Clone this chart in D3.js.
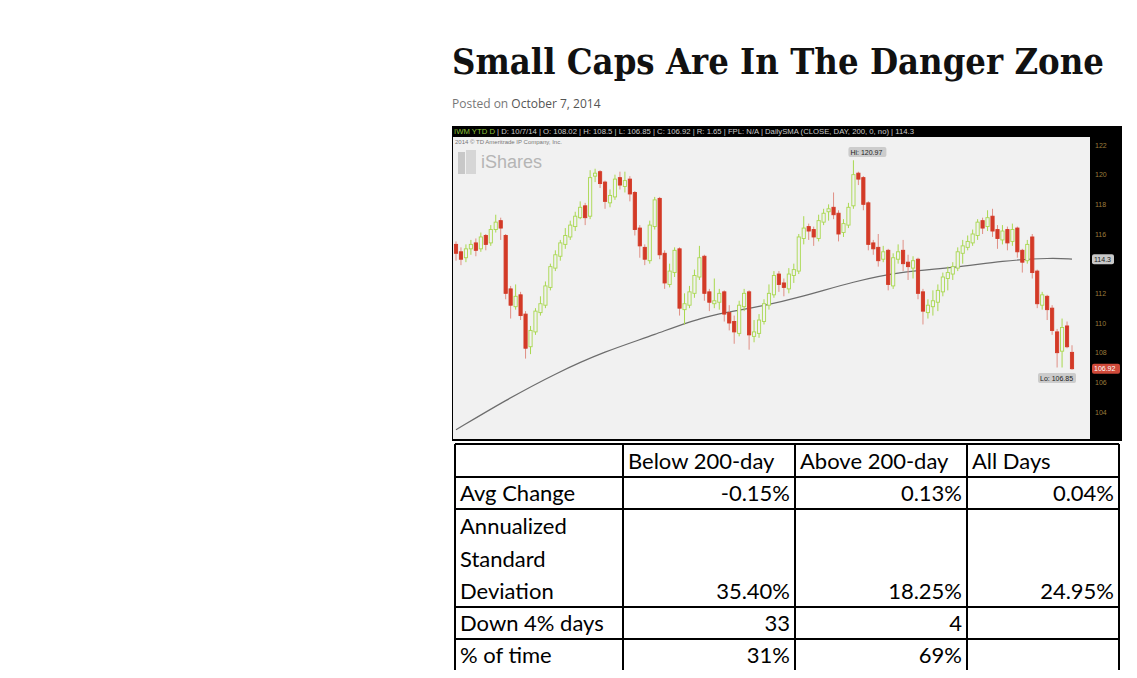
<!DOCTYPE html>
<html lang="en">
<head>
<meta charset="UTF-8">
<title>Small Caps Are In The Danger Zone</title>
<script src="https://d3js.org/d3.v7.min.js"></script>
<style>
  body { margin: 0; background: #fff; font-family: "Open Sans", sans-serif; }
</style>
</head>
<body>
<div id="page"></div>
<script>
// IWM daily candles, Jan 2 - Oct 7 2014 (thinned)
const opens  = [115.3,114.8,114.4,115.0,115.4,115.0,115.9,115.4,116.3,116.9,115.9,112.3,111.1,111.9,110.6,108.4,109.4,110.7,111.2,112.4,113.7,114.5,115.3,115.8,116.5,117.1,117.9,117.2,119.9,120.2,119.5,118.1,118.5,119.8,119.2,119.7,118.8,116.4,115.1,114.2,116.5,118.4,114.7,112.6,113.4,115.0,110.9,111.2,112.0,113.1,114.5,112.1,111.3,111.4,112.1,110.7,110.1,109.3,111.1,112.1,109.1,109.3,110.1,111.2,111.9,113.3,112.7,112.3,113.2,113.5,115.7,116.5,116.3,115.7,116.8,117.5,117.8,117.4,116.1,116.6,117.9,120.1,119.8,118.1,115.4,115.1,114.3,114.9,112.5,114.3,114.9,114.1,113.7,114.3,112.1,110.7,111.1,111.4,112.1,113.0,113.3,113.7,114.7,115.1,115.4,115.9,116.9,116.5,117.2,116.3,115.6,116.3,115.5,116.4,114.9,114.2,115.8,113.5,111.2,111.8,111.0,109.4,108.1,109.8,108.02];
const closes = [114.7,114.3,115.0,115.3,114.9,115.8,115.3,116.3,116.8,116.4,112.0,111.2,111.8,110.5,108.3,109.5,110.8,111.3,112.5,113.8,114.6,115.4,115.9,116.6,117.2,117.8,117.1,119.8,120.1,119.4,118.2,118.6,119.7,119.3,119.6,118.7,116.3,115.2,114.3,116.6,118.3,114.6,112.7,113.5,114.9,111.0,111.3,112.1,113.2,114.4,112.0,111.4,111.5,112.0,110.6,110.0,109.4,111.2,112.0,109.2,109.4,110.2,111.3,112.0,113.2,112.6,112.4,113.3,113.6,115.8,116.4,116.2,115.8,116.9,117.4,117.7,117.3,116.0,116.7,117.8,120.0,119.7,118.0,115.3,115.0,114.2,114.8,112.6,114.4,114.8,114.0,113.8,114.2,112.0,110.8,111.2,111.5,112.2,113.1,113.4,113.8,114.8,115.2,115.5,116.0,116.8,116.4,117.1,116.2,115.7,116.2,115.4,116.3,114.8,114.1,115.3,113.4,111.3,111.9,110.9,109.5,108.0,109.7,108.4,106.92];
const highs  = [115.5,115.1,115.3,115.6,115.7,116.1,116.0,116.6,117.3,117.1,116.0,112.5,112.6,112.1,110.8,109.8,111.0,111.8,112.8,114.0,114.9,115.6,116.4,116.9,117.5,118.2,118.1,120.3,120.4,120.3,119.6,119.0,120.0,120.2,120.2,119.9,118.9,116.6,115.3,116.9,118.5,118.5,114.9,114.0,115.1,115.1,112.0,112.5,113.6,115.2,114.6,112.3,113.0,112.3,112.2,111.2,110.5,111.5,112.3,112.2,110.2,110.6,111.6,112.6,113.5,113.5,113.0,113.7,114.0,116.0,117.2,116.7,116.5,117.3,117.7,118.0,118.8,117.6,117.0,118.1,120.97,120.2,119.9,118.2,115.6,116.0,115.2,115.0,114.7,115.3,115.6,114.6,114.5,114.4,112.3,111.6,112.2,112.6,113.4,113.8,114.1,115.1,115.6,115.9,116.3,117.0,117.1,117.6,117.7,116.6,116.6,116.5,116.7,116.5,115.0,115.6,116.0,113.6,112.1,111.9,111.2,109.6,110.3,110.1,108.5];
const lows   = [114.2,113.9,114.1,114.6,114.5,114.8,114.9,115.2,116.1,115.6,111.6,110.3,110.9,110.2,107.6,107.9,109.2,110.5,111.0,112.2,113.5,114.2,115.0,115.6,116.2,117.0,116.6,117.0,119.5,119.1,117.7,117.8,118.3,119.0,118.8,118.2,115.9,114.4,113.9,114.0,116.3,114.3,112.3,112.4,113.1,110.5,109.9,111.0,111.7,112.9,111.5,110.8,111.0,110.9,110.1,109.5,108.6,109.1,110.8,108.2,108.7,109.0,109.9,110.9,111.7,112.1,111.8,112.0,112.7,113.3,115.3,115.6,115.2,115.5,116.6,116.9,117.0,115.5,115.8,116.4,117.7,119.3,117.6,114.9,114.6,113.8,114.1,112.2,112.3,114.0,113.5,112.9,113.0,111.6,109.9,110.3,110.5,110.8,111.8,112.2,112.9,113.5,114.0,114.9,115.2,115.6,116.0,116.2,115.8,115.0,115.3,114.9,115.2,114.4,113.4,114.0,113.0,111.0,110.9,110.2,109.2,107.0,107.0,108.3,106.85];
// 200-day SMA, sampled at candle positions
const smaIdx  = [0, 10, 20, 30, 40, 50, 60, 70, 80, 90, 100, 110, 120, 124];
const smaVals = [102.8, 104.8, 106.6, 108.1, 109.2, 110.5, 111.0, 111.8, 112.8, 113.5, 113.7, 114.2, 114.4, 114.3];
const priceTicks = [104, 106, 108, 110, 112, 114, 116, 118, 120, 122];

// table
const colHeads = ["", "Below 200-day", "Above 200-day", "All Days"];
const rowHeads = [["Avg Change"], ["Annualized", "Standard", "Deviation"], ["Down 4% days"], ["% of time"]];
const belowVals = ["-0.15%", "35.40%", "33", "31%"];
const aboveVals = ["0.13%", "18.25%", "4", "69%"];
const allVals   = ["0.04%", "24.95%", "", ""];

const svg = d3.select("#page").append("svg")
  .attr("width", 1137).attr("height", 678)
  .style("display", "block");

// post header
svg.append("text").attr("x", 452).attr("y", 74)
  .attr("font-family", "DejaVu Serif, serif").attr("font-weight", "bold")
  .attr("font-size", 35).attr("fill", "#111")
  .attr("textLength", 652).attr("lengthAdjust", "spacingAndGlyphs")
  .text("Small Caps Are In The Danger Zone");
svg.append("text").attr("x", 452).attr("y", 108)
  .attr("font-size", 12).attr("fill", "#777")
  .text("Posted on ")
  .append("tspan").attr("fill", "#555").text("October 7, 2014");

// chart frame
const cx0 = 452, cx1 = 1122, cy0 = 126, cy1 = 441, axisX = 1090;
const chart = svg.append("g");
chart.append("rect").attr("x", cx0).attr("y", cy0).attr("width", cx1 - cx0).attr("height", cy1 - cy0).attr("fill", "#000");
chart.append("rect").attr("x", cx0 + 1).attr("y", 137).attr("width", axisX - cx0 - 1).attr("height", cy1 - 139).attr("fill", "#f1f1f1");

// header bar text
chart.append("text").attr("x", 454).attr("y", 134).attr("font-size", 7.6).attr("fill", "#ccc")
  .attr("font-family", "Liberation Sans Narrow, Liberation Sans, sans-serif")
  .attr("textLength", 460).attr("lengthAdjust", "spacingAndGlyphs")
  .html('<tspan fill="#8fc33a">IWM YTD D</tspan> | D: 10/7/14 | O: 108.02 | H: 108.5 | L: 106.85 | C: 106.92 | R: 1.65 | FPL: N/A | DailySMA (CLOSE, DAY, 200, 0, no) | 114.3');
chart.append("text").attr("x", 455).attr("y", 144).attr("font-size", 6).attr("fill", "#777")
  .attr("font-family", "Liberation Sans, sans-serif").text("2014 \u00a9 TD Ameritrade IP Company, Inc.");
// iShares watermark
chart.append("rect").attr("x", 458).attr("y", 152).attr("width", 7).attr("height", 22).attr("fill", "#c8c8c8");
chart.append("rect").attr("x", 466).attr("y", 150).attr("width", 10).attr("height", 24).attr("fill", "#d6d6d6");
chart.append("text").attr("x", 481).attr("y", 168).attr("font-size", 18).attr("fill", "#b5b5b5")
  .attr("font-family", "Liberation Sans, sans-serif").text("iShares");

// scales
const x = d3.scaleLinear().domain([0, closes.length - 1]).range([456, 1072]);
const y = d3.scaleLinear().domain([104, 122]).range([412, 145]);

// sma
const smaLine = d3.line().x(d => x(d[0])).y(d => y(d[1])).curve(d3.curveBasis);
chart.append("path").datum(smaIdx.map((d, i) => [d, smaVals[i]]))
  .attr("d", smaLine).attr("fill", "none").attr("stroke", "#6d6d6d").attr("stroke-width", 1.2);

// candles
const green = "#a9d84f", red = "#d33a27";
const candles = chart.append("g").selectAll("g").data(closes.map((c, i) => ({ i, o: opens[i], c, h: highs[i], l: lows[i] })))
  .join("g");
candles.append("line")
  .attr("x1", d => x(d.i)).attr("x2", d => x(d.i))
  .attr("y1", d => y(d.h)).attr("y2", d => y(d.l))
  .attr("stroke", d => d.c >= d.o ? green : "#e08f85").attr("stroke-width", 1);
candles.append("rect")
  .attr("x", d => x(d.i) - 1.6).attr("width", 3.2)
  .attr("y", d => y(Math.max(d.o, d.c)))
  .attr("height", d => Math.max(1, Math.abs(y(d.o) - y(d.c))))
  .attr("fill", d => d.c >= d.o ? "#f1f1f1" : red)
  .attr("stroke", d => d.c >= d.o ? green : red).attr("stroke-width", 0.9);

// price axis (the 114 label sits under the SMA tag)
chart.append("g").selectAll("text").data(priceTicks.filter(d => d !== 114)).join("text")
  .attr("x", 1095).attr("y", d => y(d) + 2.5).attr("font-size", 7).attr("fill", "#9c7c3c")
  .attr("font-family", "Liberation Sans, sans-serif").text(d => d);

// tags
function tag(px, py, w, txt, bg, fg) {
  chart.append("rect").attr("x", px).attr("y", py - 5).attr("width", w).attr("height", 10).attr("rx", 2).attr("fill", bg);
  chart.append("text").attr("x", px + 2).attr("y", py + 2.5).attr("font-size", 7).attr("fill", fg)
    .attr("font-family", "Liberation Sans, sans-serif").text(txt);
}
tag(1092, y(114.3), 22, "114.3", "#c8c8c8", "#222");
tag(1092, y(106.92), 28, "106.92", "#d04a3a", "#fff");
const hiI = highs.indexOf(d3.max(highs)), loI = lows.indexOf(d3.min(lows));
tag(x(hiI) - 5, 152, 38, "Hi: 120.97", "#ccc", "#222");
tag(x(loI) - 34, 378, 38, "Lo: 106.85", "#ccc", "#222");

// table
const colX = [455, 623, 795, 967, 1119];
const rowY = [444, 477, 509, 607, 639, 671];
const tbl = svg.append("g").attr("font-family", "Lato, sans-serif").attr("font-size", 22).attr("fill", "#000");
colHeads.forEach((h, j) => tbl.append("text").attr("x", colX[j] + 5).attr("y", rowY[1] - 8).text(h));
rowHeads.forEach((lines, r) => {
  const bottom = rowY[r + 2];
  lines.forEach((t, k) => tbl.append("text").attr("x", colX[0] + 5)
    .attr("y", bottom - 8 - (lines.length - 1 - k) * 32.5).text(t));
  [belowVals, aboveVals, allVals].forEach((vals, j) => tbl.append("text")
    .attr("x", colX[j + 2] - 5).attr("y", bottom - 8).attr("text-anchor", "end").text(vals[r]));
});
const grid = svg.append("g").attr("stroke", "#000").attr("stroke-width", 2);
rowY.slice(0, 5).forEach(v => grid.append("line").attr("x1", colX[0]).attr("x2", colX[4]).attr("y1", v).attr("y2", v));
colX.forEach(v => grid.append("line").attr("x1", v).attr("x2", v).attr("y1", rowY[0]).attr("y2", 670));
// page cut-off below the table
svg.append("rect").attr("x", 0).attr("y", 670).attr("width", 1137).attr("height", 8).attr("fill", "#fff");
</script>
</body>
</html>
